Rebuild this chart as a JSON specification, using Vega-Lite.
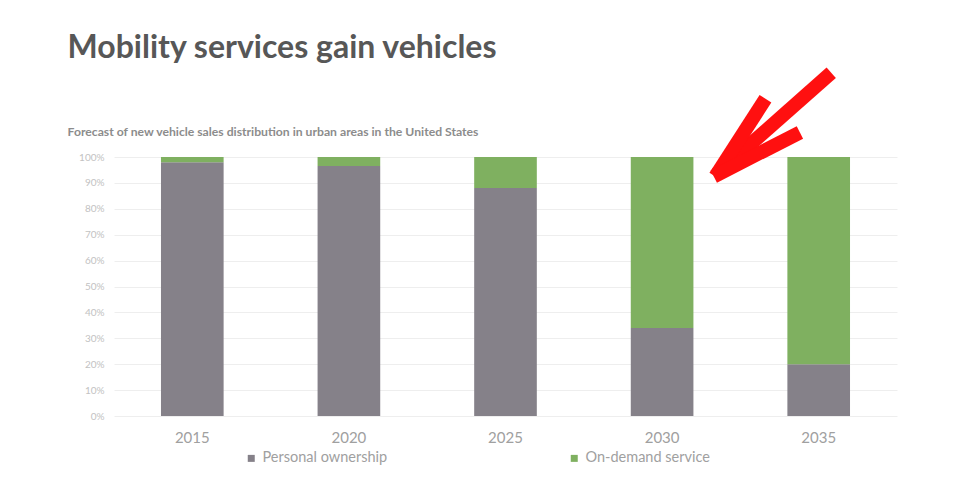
{
  "$schema": "https://vega.github.io/schema/vega-lite/v6.json",
  "width": 783,
  "height": 259,
  "autosize": {"type": "none"},
  "padding": {"left": 114, "top": 157, "right": 63, "bottom": 76},
  "background": "white",
  "config": {
    "view": {"stroke": null},
    "font": "Lato"
  },
  "title": {
    "text": "Mobility services gain vehicles",
    "subtitle": "Forecast of new vehicle sales distribution in urban areas in the United States",
    "anchor": "start",
    "dx": -11,
    "dy": 87,
    "font": "Lato",
    "fontSize": 32,
    "fontWeight": "bold",
    "color": "#575757",
    "subtitleFont": "Lato",
    "subtitleFontSize": 12.2,
    "subtitleFontWeight": "bold",
    "subtitleColor": "#8c8c8c",
    "subtitlePadding": 61,
    "offset": 14
  },
  "datasets": {
    "bars": [
      {"year": "2015", "type": "Personal ownership", "share": 0.98},
      {"year": "2015", "type": "On-demand service", "share": 0.02},
      {"year": "2020", "type": "Personal ownership", "share": 0.965},
      {"year": "2020", "type": "On-demand service", "share": 0.035},
      {"year": "2025", "type": "Personal ownership", "share": 0.88},
      {"year": "2025", "type": "On-demand service", "share": 0.12},
      {"year": "2030", "type": "Personal ownership", "share": 0.34},
      {"year": "2030", "type": "On-demand service", "share": 0.66},
      {"year": "2035", "type": "Personal ownership", "share": 0.2},
      {"year": "2035", "type": "On-demand service", "share": 0.8}
    ],
    "arrow": [
      {"part": "shaft", "x": 2035.4, "y": 1.325, "x2": 2031.75, "y2": 0.935},
      {"part": "barb1", "x": 2033.3, "y": 1.225, "x2": 2031.7, "y2": 0.925},
      {"part": "barb2", "x": 2034.4, "y": 1.095, "x2": 2031.65, "y2": 0.925}
    ]
  },
  "layer": [
    {
      "data": {"name": "bars"},
      "mark": {"type": "bar"},
      "encoding": {
        "x": {
          "field": "year",
          "type": "ordinal",
          "scale": {"paddingInner": 0.6, "paddingOuter": 0.3},
          "axis": {
            "title": null,
            "labelAngle": 0,
            "labelFontSize": 15,
            "labelColor": "#a0a0a0",
            "labelPadding": 14,
            "domain": false,
            "ticks": false
          }
        },
        "y": {
          "field": "share",
          "type": "quantitative",
          "stack": "zero",
          "scale": {"domain": [0, 1]},
          "axis": {
            "title": null,
            "format": ".0%",
            "values": [0, 0.1, 0.2, 0.3, 0.4, 0.5, 0.6, 0.7, 0.8, 0.9, 1],
            "labelOverlap": false,
            "labelFontSize": 10,
            "labelColor": "#c2c2c2",
            "labelPadding": 10,
            "domain": false,
            "ticks": false,
            "gridColor": "#eeeeee",
            "gridWidth": 1
          }
        },
        "color": {
          "field": "type",
          "type": "nominal",
          "sort": ["Personal ownership", "On-demand service"],
          "scale": {
            "domain": ["Personal ownership", "On-demand service"],
            "range": ["#858189", "#7fb060"]
          },
          "legend": {
            "title": null,
            "orient": "none",
            "direction": "horizontal",
            "legendX": 130,
            "legendY": 294,
            "padding": 0,
            "symbolType": "square",
            "symbolSize": 49,
            "symbolStrokeWidth": 0,
            "labelFontSize": 14.5,
            "labelColor": "#a0a0a0",
            "labelOffset": 4,
            "columnPadding": 179
          }
        },
        "order": {"field": "type", "sort": "descending"}
      }
    },
    {
      "data": {"name": "arrow"},
      "mark": {"type": "rule", "color": "#ff1010", "strokeWidth": 14, "strokeCap": "butt", "clip": false},
      "encoding": {
        "x": {"field": "x", "type": "quantitative", "scale": {"domain": [2012.5, 2037.5]}, "axis": null},
        "x2": {"field": "x2"},
        "y": {
          "field": "y",
          "type": "quantitative",
          "axis": {
            "title": null,
            "format": ".0%",
            "values": [0, 0.1, 0.2, 0.3, 0.4, 0.5, 0.6, 0.7, 0.8, 0.9, 1],
            "labelOverlap": false,
            "labelFontSize": 10,
            "labelColor": "#c2c2c2",
            "labelPadding": 10,
            "domain": false,
            "ticks": false,
            "gridColor": "#eeeeee",
            "gridWidth": 1
          }
        },
        "y2": {"field": "y2"}
      }
    }
  ],
  "resolve": {"scale": {"x": "independent"}}
}
